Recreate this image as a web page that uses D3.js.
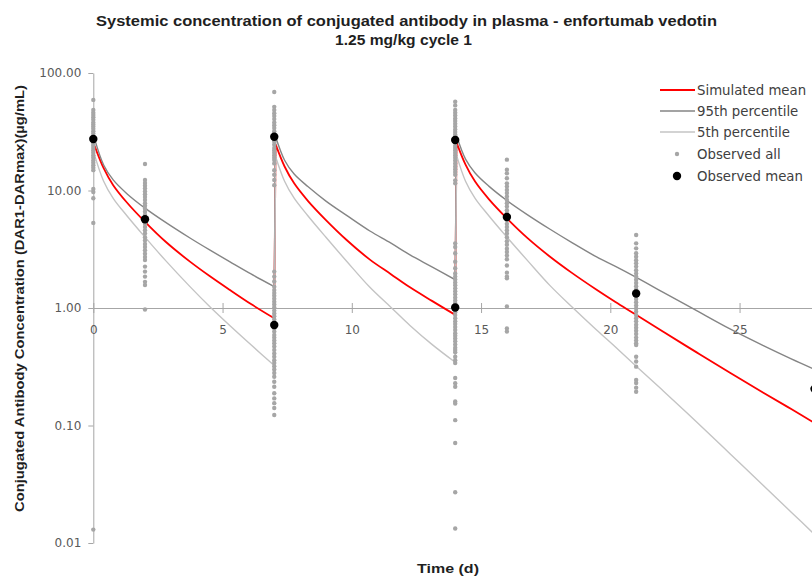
<!DOCTYPE html>
<html>
<head>
<meta charset="utf-8">
<script src="https://cdn.jsdelivr.net/npm/d3@7"></script>
<style>
  html, body { margin: 0; padding: 0; background: #ffffff; }
  svg { display: block; }
</style>
</head>
<body>
<svg id="chart" width="812" height="578"></svg>
<script>
// ---------------- DATA ----------------
const doseDays = [0, 7, 14];

const simTime = [0.05, 0.4, 0.77, 1.3, 2.0, 2.8, 3.74, 4.5, 5.29, 6.1, 7.0,
  7.05, 7.4, 7.77, 8.3, 9.0, 9.8, 10.7, 11.5, 12.25, 13.1, 14.0,
  14.05, 14.4, 14.77, 15.3, 16.0, 16.8, 17.67, 18.5, 19.47, 20.2, 20.95, 22.05, 23.34, 24.63, 25.92, 27.0, 28.0];

const simMean = [24, 15.5, 11.1, 7.9, 5.41, 3.66, 2.48, 1.87, 1.42, 1.08, 0.817,
  24.8, 16.0, 11.5, 8.17, 5.6, 3.79, 2.58, 1.95, 1.50, 1.15, 0.875,
  25.7, 16.6, 11.9, 8.45, 5.79, 3.93, 2.73, 2.0, 1.43, 1.125, 0.889, 0.627, 0.419, 0.281, 0.190, 0.138, 0.102];

const simP95 = [27.5, 16.5, 12.3, 9.4, 7.08, 5.35, 3.94, 3.12, 2.47, 1.95, 1.52,
  28.8, 18.1, 13.8, 10.8, 8.13, 6.14, 4.52, 3.58, 2.83, 2.24, 1.74,
  29.4, 18.5, 14.1, 10.9, 8.22, 6.21, 4.68, 3.62, 2.72, 2.26, 1.85, 1.36, 0.948, 0.663, 0.478, 0.369, 0.294];

const simP5 = [20, 12, 8.58, 6.1, 4.01, 2.53, 1.52, 1.03, 0.706, 0.486, 0.324,
  19.5, 12, 8.6, 6.1, 4.0, 2.5, 1.5, 1.02, 0.71, 0.49, 0.345,
  20, 12, 8.58, 6.1, 4.01, 2.53, 1.55, 1.03, 0.65, 0.465, 0.327, 0.197, 0.107, 0.0575, 0.0308, 0.0183, 0.0113];

// Observed individual concentrations per nominal day
const obsDays = [0, 2, 7, 14, 16, 21, 27.9];
const obsD0 = [59, 48.5, 46, 44, 42, 40, 38, 36.5, 35, 33.5, 32, 30.5, 29, 28, 27, 26, 25, 24, 23, 22, 21, 20, 19, 18, 17.2, 16.4, 15.6, 14.9, 10.3, 9.7, 8.6, 5.3, 0.013];
const obsD2 = [16.8, 12.3, 11.6, 11, 10.4, 9.8, 9.3, 8.8, 8.3, 7.8, 7.4, 7, 6.6, 6.2, 5.9, 5.5, 5.2, 4.9, 4.6, 4.3, 4.0, 3.75, 3.5, 3.3, 3.1, 2.9, 2.72, 2.56, 2.25, 2.04, 1.85, 1.67, 1.57, 0.97];
const obsD7 = [69, 51.5, 48.4, 45.5, 43, 40.5, 38, 36, 34, 32, 30.5, 29, 27.5, 26, 24.5, 23, 22, 21, 20, 19, 18.2, 17, 14.9, 13.6, 12.3, 11.1,
  2.04, 1.85, 1.68, 1.52, 1.42, 1.34, 1.27, 1.2, 1.13, 1.07, 1.01, 0.95, 0.9, 0.85, 0.8, 0.75, 0.71, 0.67, 0.63, 0.59, 0.56, 0.53, 0.5, 0.47, 0.44, 0.41, 0.385, 0.36, 0.34, 0.32, 0.3, 0.28, 0.26, 0.236, 0.214, 0.188, 0.17, 0.155, 0.141, 0.123];
const obsD14 = [57, 53, 48.4, 46, 43.5, 41, 39, 37, 35, 33, 31.5, 30, 28.5, 27, 25.5, 24, 23, 22, 21, 20, 19, 18, 17, 16, 15.2, 14.4, 13.6, 12.2, 11.5,
  3.55, 3.3, 2.92, 2.48, 2.18, 1.97, 1.85, 1.75, 1.65, 1.56, 1.47, 1.39, 1.31, 1.23, 1.16, 1.1, 1.04, 0.98, 0.92, 0.87, 0.82, 0.77, 0.73, 0.69, 0.65, 0.61, 0.58, 0.55, 0.52, 0.49, 0.46, 0.44, 0.42, 0.385, 0.36, 0.34, 0.254, 0.229, 0.214, 0.16, 0.154, 0.111, 0.071, 0.027, 0.0133];
const obsD16 = [18.3, 15, 14, 12.7, 11.5, 10.8, 10.1, 9.5, 8.9, 8.3, 7.8, 7.3, 6.8, 6.4, 6.0, 5.6, 5.2, 4.9, 4.6, 4.3, 4.0, 3.7, 3.45, 3.2, 3.0, 2.8, 2.6, 2.3, 2.0, 1.85, 1.79, 1.03, 0.67, 0.63];
const obsD21 = [4.18, 3.55, 3.22, 2.92, 2.73, 2.55, 2.4, 2.25, 2.1, 1.97, 1.85, 1.74, 1.63, 1.53, 1.44, 1.35, 1.27, 1.19, 1.12, 1.05, 0.99, 0.93, 0.87, 0.82, 0.77, 0.72, 0.68, 0.64, 0.6, 0.56, 0.53, 0.5, 0.485, 0.385, 0.35, 0.317, 0.244, 0.23, 0.21, 0.194];
const obsD28 = [0.75, 0.68, 0.61, 0.55, 0.5, 0.45, 0.4, 0.36, 0.32, 0.29, 0.26, 0.23, 0.2, 0.18, 0.16, 0.14, 0.12, 0.105, 0.09, 0.078, 0.067, 0.057, 0.048, 0.04, 0.033, 0.027, 0.022, 0.018, 0.015, 0.012];

const obsMeanDays = [0, 2, 7, 7, 14, 14, 16, 21, 27.9];
const obsMean = [27.4, 5.7, 0.717, 28.7, 1.01, 26.9, 5.95, 1.33, 0.205];

const yTicks = [0.01, 0.1, 1, 10, 100];
const xTicks = [0, 5, 10, 15, 20, 25];

const legendLabels = ["Simulated mean", "95th percentile", "5th percentile", "Observed all", "Observed mean"];

// ---------------- CHART ----------------
const svg = d3.select("#chart");
svg.append("rect").attr("width", 812).attr("height", 578).attr("fill", "#ffffff");

const x = d3.scaleLinear().domain([0, 28]).range([93.3, 817.1]);
const y = d3.scaleLog().domain([0.01, 100]).range([543, 73]);

const axisColor = "#a6a6a6";
const tickTextColor = "#595959";

// Y axis
const gy = svg.append("g").attr("transform", `translate(${x(0)},0)`)
  .call(d3.axisLeft(y).tickValues(yTicks).tickFormat(d3.format(".2f")).tickSizeInner(5).tickSizeOuter(0).tickPadding(7));
gy.select(".domain").attr("stroke", axisColor);
gy.selectAll(".tick line").attr("stroke", axisColor);
gy.selectAll(".tick text").attr("fill", tickTextColor).attr("font-family", "DejaVu Sans, Verdana, sans-serif").attr("font-size", 12);

// X axis (crosses at 1.0)
const gx = svg.append("g").attr("transform", `translate(0,${y(1)})`)
  .call(d3.axisBottom(x).tickValues(xTicks).tickFormat(d3.format("d")).tickSizeInner(5).tickSizeOuter(0));
gx.select(".domain").attr("stroke", axisColor);
gx.selectAll(".tick line").attr("stroke", axisColor).attr("y1", -5).attr("y2", 5);
gx.selectAll(".tick text").attr("fill", tickTextColor).attr("font-family", "DejaVu Sans, Verdana, sans-serif").attr("font-size", 12).attr("y", 17);

// Simulated lines: one smooth piece per dosing interval, joined by the vertical jump at each dose
function seriesPath(values) {
  const pts = simTime.map((t, i) => [t, values[i]]);
  const line = d3.line().x(d => x(d[0])).y(d => y(d[1])).curve(d3.curveCatmullRom.alpha(0.5));
  let out = "";
  doseDays.forEach((d0, k) => {
    const d1 = k + 1 < doseDays.length ? doseDays[k + 1] : Infinity;
    const seg = pts.filter(p => (k === 0 ? p[0] >= d0 : p[0] > d0) && p[0] <= d1);
    let s = line(seg);
    if (out !== "") s = "L" + s.slice(1);
    out += s;
  });
  return out;
}

const plot = svg.append("g");
plot.append("path").attr("d", seriesPath(simMean)).attr("fill", "none").attr("stroke", "#ff0000").attr("stroke-width", 1.8);
plot.append("path").attr("d", seriesPath(simP95)).attr("fill", "none").attr("stroke", "#858585").attr("stroke-width", 1.4);
plot.append("path").attr("d", seriesPath(simP5)).attr("fill", "none").attr("stroke", "#c4c4c4").attr("stroke-width", 1.4);

// Observed all
const obsGroups = [obsD0, obsD2, obsD7, obsD14, obsD16, obsD21, obsD28];
const obsAll = [];
obsGroups.forEach((arr, i) => arr.forEach(v => obsAll.push({ t: obsDays[i], v })));
plot.append("g").selectAll("circle").data(obsAll).join("circle")
  .attr("cx", d => x(d.t)).attr("cy", d => y(d.v)).attr("r", 2.2).attr("fill", "#a6a6a6");

// Observed mean
plot.append("g").selectAll("circle").data(obsMeanDays.map((t, i) => ({ t, v: obsMean[i] }))).join("circle")
  .attr("cx", d => x(d.t)).attr("cy", d => y(d.v)).attr("r", 4.2).attr("fill", "#000000");

// Titles
const titleFont = "'Liberation Sans Narrow', 'Arial Narrow', 'Liberation Sans', sans-serif";
svg.append("text").attr("x", 406.5).attr("y", 26).attr("text-anchor", "middle")
  .attr("font-family", titleFont).attr("font-weight", "bold").attr("font-size", 15.5).attr("fill", "#1f1f1f")
  .attr("textLength", 621).attr("lengthAdjust", "spacingAndGlyphs")
  .text("Systemic concentration of conjugated antibody in plasma - enfortumab vedotin");
svg.append("text").attr("x", 403.5).attr("y", 45).attr("text-anchor", "middle")
  .attr("font-family", titleFont).attr("font-weight", "bold").attr("font-size", 15.5).attr("fill", "#1f1f1f")
  .attr("textLength", 137).attr("lengthAdjust", "spacingAndGlyphs")
  .text("1.25 mg/kg cycle 1");

svg.append("text").attr("transform", "translate(24,298.5) rotate(-90)").attr("text-anchor", "middle")
  .attr("font-family", titleFont).attr("font-weight", "bold").attr("font-size", 13).attr("fill", "#1f1f1f")
  .attr("textLength", 427).attr("lengthAdjust", "spacingAndGlyphs")
  .text("Conjugated Antibody Concentration (DAR1-DARmax)(µg/mL)");

svg.append("text").attr("x", 448).attr("y", 573).attr("text-anchor", "middle")
  .attr("font-family", titleFont).attr("font-weight", "bold").attr("font-size", 13).attr("fill", "#1f1f1f")
  .attr("textLength", 62).attr("lengthAdjust", "spacingAndGlyphs")
  .text("Time (d)");

// Legend
const legY = [90, 111, 132, 154, 176];
const leg = svg.append("g");
const legStyles = [
  { type: "line", color: "#ff0000", w: 1.8 },
  { type: "line", color: "#858585", w: 1.4 },
  { type: "line", color: "#c4c4c4", w: 1.4 },
  { type: "dot", color: "#a6a6a6", r: 2.2 },
  { type: "dot", color: "#000000", r: 4.2 }
];
legendLabels.forEach((lab, i) => {
  const st = legStyles[i];
  if (st.type === "line") {
    leg.append("line").attr("x1", 660).attr("x2", 695).attr("y1", legY[i]).attr("y2", legY[i])
      .attr("stroke", st.color).attr("stroke-width", st.w);
  } else {
    leg.append("circle").attr("cx", 677).attr("cy", legY[i]).attr("r", st.r).attr("fill", st.color);
  }
  leg.append("text").attr("x", 697).attr("y", legY[i] + 4.5)
    .attr("font-family", "DejaVu Sans, Verdana, sans-serif").attr("font-size", 13.3).attr("fill", "#404040")
    .text(lab);
});
</script>
</body>
</html>
